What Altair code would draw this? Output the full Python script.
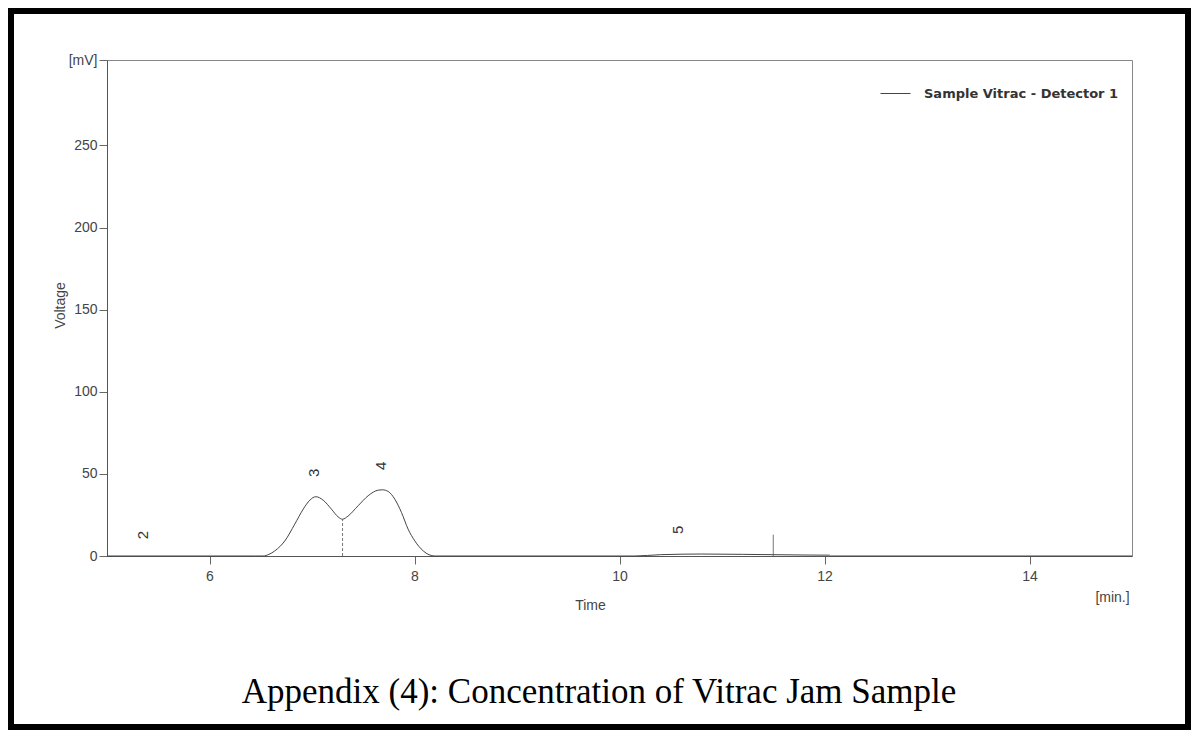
import altair as alt
import pandas as pd

# Chromatogram trace (time in min, signal in mV)
trace_time = [5.0, 6.45, 6.524, 6.58, 6.637, 6.735, 6.832, 6.914, 6.979, 7.037, 7.109, 7.190,
              7.255, 7.298, 7.353, 7.450, 7.548, 7.646, 7.688, 7.743, 7.808, 7.873, 7.938,
              8.003, 8.085, 8.198, 10.15, 10.4, 10.8, 11.2, 11.5, 11.8, 12.05, 12.06, 15.0]
trace_mv = [0, 0, 0, 1.0, 3.1, 9.2, 19.4, 28.5, 34.0, 36.1, 34.0, 28.5,
            23.8, 22.4, 24.4, 30.6, 36.7, 40.1, 40.3, 39.3, 34.6, 26.5, 16.3,
            9.2, 3.1, 0, 0, 0.8, 1.2, 1.0, 0.8, 0.6, 0.5, 0, 0]

# Peak labels
peak_names = ["2", "3", "4", "5"]
peak_time = [5.35, 7.02, 7.67, 10.57]
peak_label_mv = [12.8, 50.6, 54.9, 15.9]

# Peak separation drop lines
drop_time = [7.298, 11.50]
drop_top = [22.4, 13.0]
drop_dash = ["dashed", "solid"]

series_name = "Sample Vitrac - Detector 1"
y_ticks = [0, 50, 100, 150, 200, 250, 302]
x_ticks = [6, 8, 10, 12, 14]
caption = "Appendix (4): Concentration of Vitrac Jam Sample"

trace = pd.DataFrame({"time": trace_time, "mv": trace_mv, "series": series_name})
peaks = pd.DataFrame({"name": peak_names, "time": peak_time, "mv": peak_label_mv})
drops = pd.DataFrame({"time": drop_time, "top": drop_top, "zero": [0, 0], "kind": drop_dash})

FONT = "Liberation Sans"
GREY = "#444444"

xscale = alt.Scale(domain=[5, 15], nice=False, zero=False)
yscale = alt.Scale(domain=[0, 302], nice=False)

line = alt.Chart(trace).mark_line(strokeWidth=1, interpolate="monotone").encode(
    x=alt.X("time:Q", scale=xscale,
            axis=alt.Axis(values=x_ticks, format="d", title="Time", tickSize=8, labelPadding=5,
                          titleX=483, titleY=49, titleAlign="center", titleBaseline="middle",
                          titleFontWeight="normal")),
    y=alt.Y("mv:Q", scale=yscale,
            axis=alt.Axis(values=y_ticks, title="Voltage", tickSize=8, labelPadding=2,
                          labelExpr="datum.value > 300 ? '[mV]' : datum.label",
                          titleX=-47, titleY=245, titleAngle=270, titleAlign="center",
                          titleBaseline="middle", titleFontWeight="normal")),
    color=alt.Color("series:N", scale=alt.Scale(range=["#444444"]),
                    legend=alt.Legend(title=None, orient="none", legendX=773, legendY=18,
                                      symbolType="stroke", symbolSize=900,
                                      symbolStrokeWidth=1, labelFont="DejaVu Sans",
                                      labelFontWeight="bold", labelFontSize=13, labelLimit=0,
                                      labelColor="#333333", labelOffset=13, padding=0)),
)

drop_rules = alt.Chart(drops).mark_rule(color="#777777", strokeWidth=1).encode(
    x="time:Q", y="zero:Q", y2="top:Q",
    strokeDash=alt.StrokeDash("kind:N", scale=alt.Scale(domain=["dashed", "solid"],
                                                         range=[[3, 2], [1, 0]]), legend=None),
)

peak_text = alt.Chart(peaks).mark_text(angle=270, font=FONT, fontSize=15, color="#333333",
                                       baseline="middle", align="center").encode(
    x="time:Q", y="mv:Q", text="name:N"
)

unit_x = alt.Chart(pd.DataFrame({"time": [14.81], "t": ["[min.]"]})).mark_text(
    font=FONT, fontSize=14, color=GREY, baseline="middle", align="center").encode(
    x="time:Q", y=alt.value(538), text="t:N"
)

cap = alt.Chart(pd.DataFrame({"t": [caption]})).mark_text(
    font="Liberation Serif", fontSize=35, color="#000000", baseline="middle", align="center").encode(
    x=alt.value(492), y=alt.value(632), text="t:N"
)

frame = alt.Chart(pd.DataFrame({"a": [0]})).mark_rect(
    fill=None, stroke="#000000", strokeWidth=6).encode(
    x=alt.value(-96), x2=alt.value(1081), y=alt.value(-49), y2=alt.value(667)
)

chart = alt.layer(frame, drop_rules, line, peak_text, unit_x, cap).properties(
    width=1025, height=496,
    autosize=alt.AutoSizeParams(type="none"),
    padding={"left": 99, "top": 52, "right": 59, "bottom": 174},
    background="white",
).configure_axis(
    labelFont=FONT, titleFont=FONT, labelFontSize=14, titleFontSize=14,
    labelColor=GREY, titleColor=GREY, domainColor="#555555", tickColor="#666666",
    grid=False,
).configure_view(stroke="#888888", strokeWidth=1)

chart.save("out.html", embed_options={"renderer": "svg", "actions": False})
